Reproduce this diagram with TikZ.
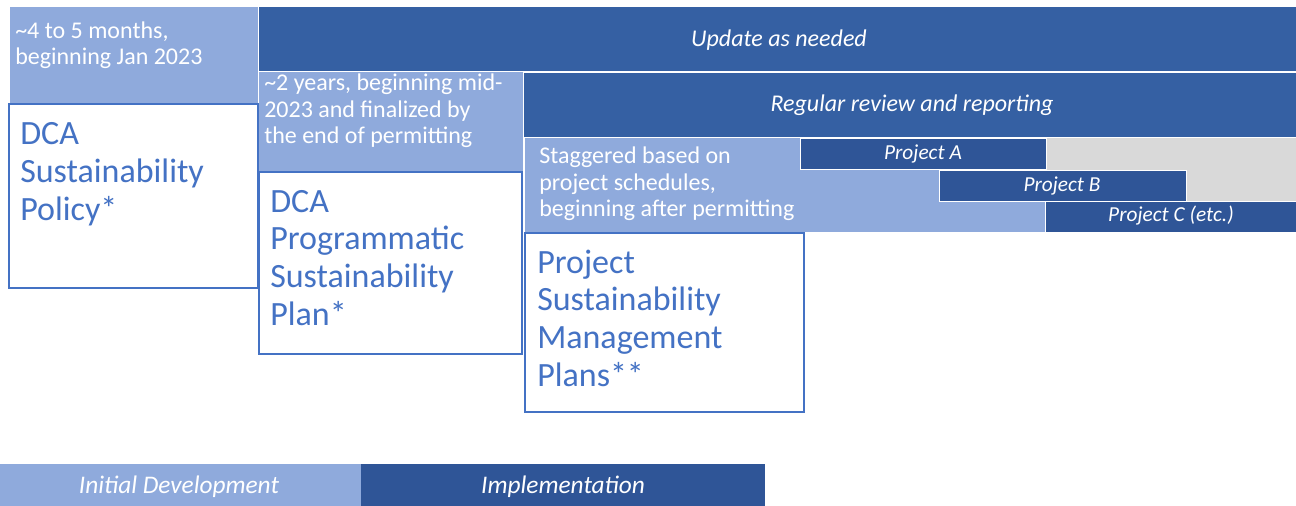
\documentclass[tikz,border=0pt]{standalone}
\usepackage{fontspec}
\setmainfont{Carlito}
\definecolor{lightb}{HTML}{8FAADC}
\definecolor{darkb}{HTML}{3560A3}
\definecolor{projb}{HTML}{2F5597}
\definecolor{edgeb}{HTML}{4472C4}
\definecolor{grayb}{HTML}{D9D9D9}
\begin{document}
\begin{tikzpicture}[x=0.75pt,y=-0.75pt,
  bar/.style={draw=white, line width=0.6pt},
  docbox/.style={draw=edgeb, line width=1.5pt, fill=white},
  small/.style={font=\fontsize{18}{20}\selectfont, text=white, inner sep=0pt, align=left, anchor=base west},
  big/.style={font=\fontsize{25.5}{28.2}\selectfont, text=edgeb, inner sep=0pt, align=left, anchor=base west},
  ital/.style={font=\fontsize{18}{20}\selectfont\itshape, text=white, inner sep=0pt},
  projlbl/.style={ital, font=\fontsize{16}{18}\selectfont\itshape},
  legend/.style={ital, font=\fontsize{19}{21}\selectfont\itshape}]
\useasboundingbox[fill=white] (0,0) rectangle (1296,506);
% bands
\path[bar, fill=darkb] (258,6) rectangle (1296,71);
\path[bar, fill=lightb] (9,6) rectangle (258,104);
\path[bar, fill=darkb] (522,72) rectangle (1296,137);
\path[bar, fill=lightb] (258,71) rectangle (523,172);
\path[fill=grayb] (1046,138) rectangle (1296,201);
\path[bar, fill=lightb] (524,137) rectangle (1046,232);
\path[bar, fill=projb] (800,138) rectangle (1046,169);
\path[bar, fill=projb] (939,170) rectangle (1186,201);
\path[bar, fill=projb] (1045,201) rectangle (1296,232);
% document boxes
\draw[docbox] (9,104) rectangle (258,288);
\draw[docbox] (259,172) rectangle (522,354);
\draw[docbox] (525,233) rectangle (804,412);
% legend
\path[fill=lightb] (0,464) rectangle (361,506);
\path[fill=projb] (361,464) rectangle (765,506);
% texts (anchored at the baseline of the last line)
\node[small] (t1) at (15,65) {\textasciitilde4 to 5 months,\\beginning Jan 2023};
\node[ital] (u) at (779,40) {Update as needed};
\node[small] (t2) at (264,144) {\textasciitilde2 years, beginning mid-\\2023 and finalized by\\the end of permitting};
\node[big] (p1) at (20,220) {DCA\\Sustainability\\Policy*};
\node[big] (p2) at (270,325) {DCA\\Programmatic\\Sustainability\\Plan*};
\node[ital] (r) at (912,105) {Regular review and reporting};
\node[small] (t3) at (539,217) {Staggered based on\\project schedules,\\beginning after permitting};
\node[projlbl] (pa) at (923,154) {Project A};
\node[projlbl] (pb) at (1062,186) {Project B};
\node[projlbl] (pc) at (1171,216) {Project C (etc.)};
\node[big] (p3) at (537,386) {Project\\Sustainability\\Management\\Plans**};
\node[legend] (l1) at (179,487) {Initial Development};
\node[legend] (l2) at (563,487) {Implementation};
\end{tikzpicture}
\end{document}
